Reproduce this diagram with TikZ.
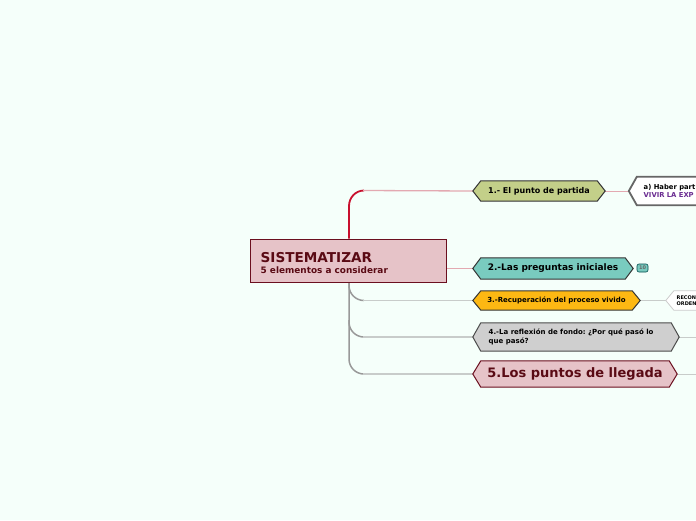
\documentclass[tikz,border=0pt]{standalone}
\usepackage{fontspec}
\setmainfont{DejaVu Sans}
\usetikzlibrary{backgrounds}
\definecolor{bgc}{HTML}{F5FFFA}
\definecolor{rootfill}{HTML}{E6C3C8}
\definecolor{rootline}{HTML}{6B0F1F}
\definecolor{roottext}{HTML}{5A0A14}
\definecolor{fillA}{HTML}{C3CF89}
\definecolor{fillB}{HTML}{79CBBF}
\definecolor{fillC}{HTML}{FDB813}
\definecolor{fillD}{HTML}{CFCFCF}
\definecolor{redline}{HTML}{C8102E}
\definecolor{pinkline}{HTML}{E3A9B1}
\definecolor{grayline}{HTML}{999999}
\definecolor{lgrayline}{HTML}{C8CCCA}
\definecolor{purpletext}{HTML}{6A2C91}
\newcommand\hexpath[2]{(#1.west) -- ([xshift=#2]#1.north west) -- ([xshift=-#2]#1.north east) -- (#1.east) -- ([xshift=-#2]#1.south east) -- ([xshift=#2]#1.south west) -- cycle}
\tikzset{
  hexbox/.style={inner sep=0pt, font=\bfseries},
  hexline/.style={line width=1pt, draw=black!80},
}
\begin{document}
\begin{tikzpicture}[x=1pt,y=-1pt]
\frenchspacing
\useasboundingbox (0,0) rectangle (696,520);
\clip (0,0) rectangle (696,520);

% root
\node[draw=rootline, line width=1pt, fill=rootfill, minimum width=196, minimum height=43, inner sep=0pt] (root) at (348,260.5) {};
\node[anchor=west, align=left, inner sep=0pt, text=roottext, font=\bfseries] (roottext) at (260.5,263)
  {{\fontsize{13.6}{14}\selectfont SISTEMATIZAR}\\[-1.5pt]{\fontsize{8.9}{9}\selectfont 5 elementos a considerar}};

% main topics (hexagon boxes)
\node[hexbox, minimum width=132, minimum height=20] (n1) at (539,191) {\fontsize{8}{9}\selectfont 1.- El punto de partida};
\node[hexbox, minimum width=160, minimum height=21] (n2) at (553,268.5) {\fontsize{9}{10}\selectfont 2.-Las preguntas iniciales};
\node[hexbox, minimum width=167, minimum height=19] (n3) at (556.5,300.5) {\fontsize{7}{8}\selectfont 3.-Recuperación del proceso vivido};
\node[hexbox, minimum width=206, minimum height=28] (n4) at (576,337) {};
\node[anchor=west, align=left, inner sep=0pt, font=\bfseries\fontsize{7}{9.5}\selectfont] (n4text) at (488.5,337)
  {4.-La reflexión de fondo: ¿Por qué pasó lo\\que pasó?};
\node[hexbox, minimum width=204, minimum height=26, text=roottext] (n5) at (575,374) {\fontsize{13}{14}\selectfont 5.Los puntos de llegada};

% badge
\node[draw=teal!60!black, fill=fillB, rounded corners=2pt, line width=0.6pt, inner sep=0pt, minimum width=11, minimum height=8, font=\bfseries\fontsize{5}{5}\selectfont, text=black!60] (badge) at (642.5,268) {10};

% sub topics (cut by the right edge)
\node[hexbox, minimum width=120, minimum height=28] (a1) at (689,191) {};
\node[anchor=west, align=left, inner sep=0pt, font=\bfseries\fontsize{6.8}{8}\selectfont] (a1text) at (643.5,191)
  {a) Haber part\\{\color{purpletext}VIVIR LA EXP}};
\node[hexbox, minimum width=80, minimum height=19] (r1) at (706,300.5) {};
\node[anchor=west, align=left, inner sep=0pt, font=\bfseries\fontsize{5}{6}\selectfont] (r1text) at (676.5,301)
  {RECON\\ORDEN};

\coordinate (e4) at (700,337);
\coordinate (e5) at (700,374);

\begin{scope}[on background layer]
\clip (0,0) rectangle (696,520);
\fill[bgc] (0,0) rectangle (696,520);
% connectors
\draw[redline, line width=1.8pt] (root.north -| 349,0) -- (349,206) to[out=90,in=180] (364,190.5);
\draw[pinkline, line width=1.3pt] (363,190.5) -- (n1.west);
\draw[pinkline, line width=1pt] (root.east |- n2.west) -- (n2.west);
\draw[grayline, line width=1.5pt] (root.south -| 349,0) -- (349,359) to[out=-90,in=180] (364,374);
\draw[grayline, line width=1.5pt] (349,283) -- (349,285.5) to[out=-90,in=180] (364,300.5);
\draw[grayline, line width=1.5pt] (349,320) -- (349,322) to[out=-90,in=180] (364,337);
\draw[lgrayline, line width=1.2pt] (363,300.5) -- (n3.west);
\draw[lgrayline, line width=1.2pt] (363,337) -- (n4.west);
\draw[lgrayline, line width=1.2pt] (363,374) -- (n5.west);
\draw[pinkline, line width=1pt] (n1.east) -- (a1.west);
\draw[lgrayline, line width=1pt] (n3.east) -- (r1.west);
\draw[lgrayline, line width=1pt] (n4.east) -- (e4);
\draw[lgrayline, line width=1pt] (n5.east) -- (e5);
% hexagons
\filldraw[hexline, fill=fillA] \hexpath{n1}{8};
\filldraw[hexline, fill=fillB] \hexpath{n2}{8};
\filldraw[hexline, fill=fillC] \hexpath{n3}{8};
\filldraw[hexline, draw=black!70, fill=fillD] \hexpath{n4}{8};
\filldraw[line width=1pt, draw=rootline, fill=rootfill] \hexpath{n5}{8};
\filldraw[line width=1.8pt, draw=black!60, fill=white] \hexpath{a1}{8};
\filldraw[line width=0.8pt, draw=black!20, fill=white] \hexpath{r1}{8};
\end{scope}
\end{tikzpicture}
\end{document}
